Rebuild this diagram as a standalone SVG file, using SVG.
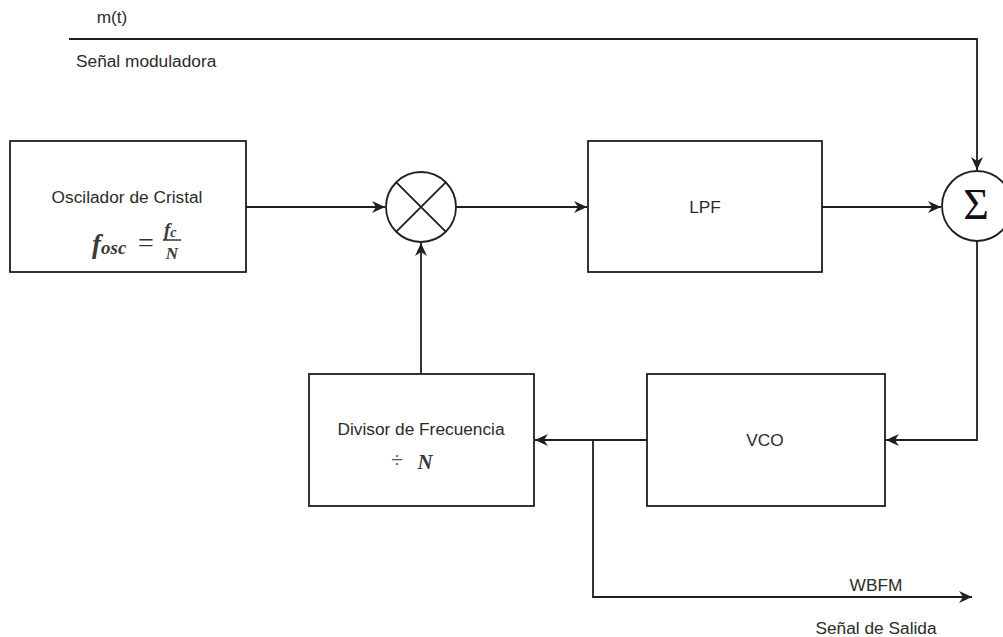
<svg xmlns="http://www.w3.org/2000/svg" width="1003" height="637" viewBox="0 0 1003 637">
<style>
.box{fill:#fff;stroke:#1f1f1f;stroke-width:1.8}
.ln{fill:none;stroke:#1f1f1f;stroke-width:1.8}
.t{font-family:"Liberation Sans",Arial,sans-serif;font-size:17.3px;fill:#2b2b2b}
.m{font-family:"Liberation Serif","Times New Roman",serif;font-style:italic;font-weight:bold;fill:#3a3a3a}
</style>
<defs>
<marker id="arr" markerUnits="userSpaceOnUse" markerWidth="14" markerHeight="12" viewBox="0 0 14 12" refX="13" refY="6" orient="auto">
<path d="M0,0 L13,6 L0,12 L4,6 Z" fill="#1f1f1f"/>
</marker>
</defs>
<rect width="1003" height="637" fill="#fff"/>
<g id="connectors">
<path class="ln" d="M246,207 H385" marker-end="url(#arr)"/>
<path class="ln" d="M456,207 H587" marker-end="url(#arr)"/>
<path class="ln" d="M822,207 H941" marker-end="url(#arr)"/>
<path class="ln" d="M69,39 H977 V170" marker-end="url(#arr)"/>
<path class="ln" d="M977,241 V440 H886" marker-end="url(#arr)"/>
<path class="ln" d="M647,440 H535" marker-end="url(#arr)"/>
<path class="ln" d="M421,374 V243" marker-end="url(#arr)"/>
<path class="ln" d="M593,440 V597 H972" marker-end="url(#arr)"/>
</g>
<g id="osc">
<rect class="box" x="10" y="141" width="236" height="131"/>
<text class="t" x="127" y="203" text-anchor="middle">Oscilador de Cristal</text>
<text class="m" x="92" y="253" font-size="27">f<tspan font-size="19" dy="1">osc</tspan></text>
<text x="146" y="252" font-family="Liberation Serif,serif" font-size="28" fill="#333" text-anchor="middle">=</text>
<text class="m" x="164" y="236" font-size="19">f<tspan font-size="14" dy="1">c</tspan></text>
<line x1="163" y1="240" x2="181" y2="240" stroke="#333" stroke-width="1.5"/>
<text class="m" x="172" y="259" font-size="17" text-anchor="middle">N</text>
</g>
<g id="mult">
<circle class="box" cx="421" cy="207" r="35"/>
<path class="ln" d="M396.3,182.3 L445.7,231.7 M445.7,182.3 L396.3,231.7"/>
</g>
<g id="lpf">
<rect class="box" x="588" y="141" width="234" height="131"/>
<text class="t" x="705" y="213" text-anchor="middle">LPF</text>
</g>
<g id="sum">
<circle class="box" cx="977" cy="206" r="35"/>
<text x="976" y="219" font-family="Liberation Serif,serif" font-size="44" fill="#111" text-anchor="middle">Σ</text>
</g>
<g id="vco">
<rect class="box" x="647" y="374" width="238" height="132"/>
<text class="t" x="765" y="446" text-anchor="middle">VCO</text>
</g>
<g id="div">
<rect class="box" x="309" y="374" width="225" height="132"/>
<text class="t" x="421" y="435" text-anchor="middle">Divisor de Frecuencia</text>
<text x="397" y="467" font-family="Liberation Serif,serif" font-size="22" fill="#555" text-anchor="middle">÷</text>
<text class="m" x="425" y="469" font-size="21" text-anchor="middle">N</text>
</g>
<g id="labels">
<text class="t" x="112" y="23" text-anchor="middle">m(t)</text>
<text class="t" x="76" y="67">Señal moduladora</text>
<text class="t" x="876" y="591" text-anchor="middle">WBFM</text>
<text class="t" x="876" y="634" text-anchor="middle">Señal de Salida</text>
</g>
</svg>
